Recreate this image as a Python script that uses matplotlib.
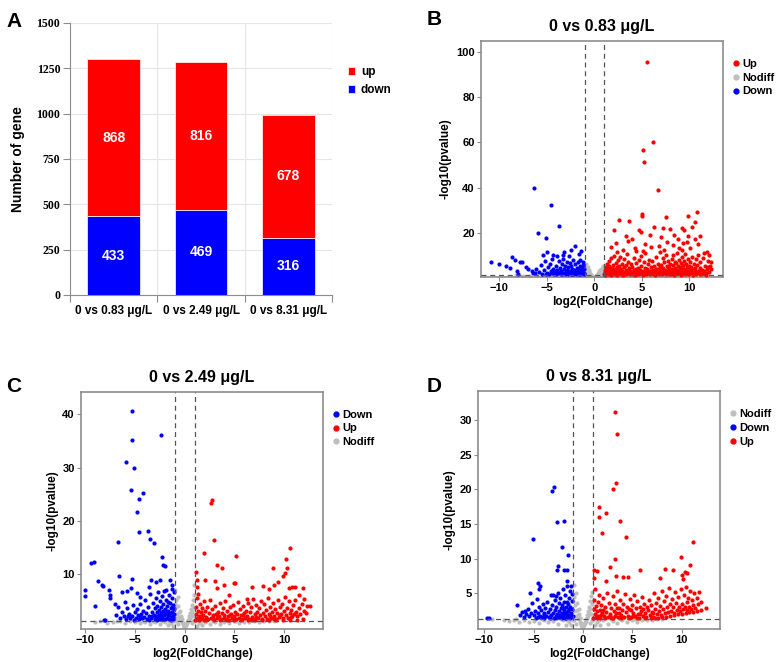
import matplotlib
matplotlib.use("Agg")
import matplotlib.pyplot as plt
from matplotlib.lines import Line2D

plt.rcParams['font.family'] = ['Liberation Sans', 'DejaVu Sans']
plt.rcParams['font.weight'] = 'bold'

# ---------------- Panel A data ----------------
categories = ['0 vs 0.83 μg/L', '0 vs 2.49 μg/L', '0 vs 8.31 μg/L']
down_counts = [433, 469, 316]
up_counts = [868, 816, 678]
a_yticks = [0, 250, 500, 750, 1000, 1250, 1500]

# ---------------- Panel B data (0 vs 0.83) ----------------
b_up = [(5.6,95.5),(6.2,60.0),(5.1,56.5),(5.2,51.5),(6.7,38.8),(10.8,29.2),(5.0,28.2),(5.0,27.4),(9.9,27.3),(7.6,26.8),
        (2.6,25.5),(3.7,25.3),(10.6,24.6),(6.3,22.6),(7.3,22.0),(8.0,21.6),(9.3,22.0),(9.5,21.4),(2.1,21.0),(4.7,21.0),
        (4.9,20.2),(10.3,22.4),(11.2,18.5),(8.4,19.0),(3.3,18.5),(5.9,18.8),(7.0,18.2),(9.9,18.4),(4.0,17.0),(8.8,17.4),
        (10.6,17.2),(3.6,16.2),(7.7,16.0),(9.4,15.5),(9.8,15.7),(2.3,15.2),(5.4,15.0),(6.8,14.2),(8.3,14.6),(10.9,14.8),
        (1.8,13.5),(4.3,13.2),(6.0,13.6),(8.9,13.0),(10.1,13.4),(11.6,11.2),(3.0,12.3),(5.1,12.0),(7.4,12.4),(9.2,12.1),
        (11.9,11.5),(12.1,10.2),(12.3,7.0),(12.2,5.4),(12.0,4.8),
        (1.05,1.6),(1.1,2.4),(1.15,3.5),(1.2,1.9),(1.25,4.6),(1.3,2.8),(1.35,6.1),(1.4,1.5),(1.45,3.1),(1.5,2.2),
        (1.55,5.0),(1.6,7.4),(1.65,1.8),(1.7,3.9),(1.75,2.6),(1.8,8.6),(1.85,4.4),(1.9,1.7),(1.95,3.3),(2.0,5.8),
        (2.05,2.1),(2.1,9.7),(2.15,3.7),(2.2,1.6),(2.25,6.6),(2.3,2.9),(2.35,4.9),(2.4,11.3),(2.45,2.3),(2.5,3.6),
        (2.55,7.7),(2.6,1.9),(2.65,5.3),(2.7,2.7),(2.75,9.1),(2.8,4.1),(2.85,1.5),(2.9,3.2),(2.95,6.2),
        (3.0,2.0),(3.1,4.7),(3.15,8.4),(3.2,2.6),(3.3,1.7),(3.35,5.6),(3.4,3.4),(3.5,10.4),(3.55,2.2),(3.6,7.0),
        (3.7,4.3),(3.75,1.6),(3.8,3.0),(3.9,6.1),(3.95,2.4),
        (4.0,4.9),(4.1,1.8),(4.15,8.9),(4.2,3.3),(4.3,2.1),(4.35,6.5),(4.4,11.9),(4.5,2.9),(4.6,4.4),(4.65,1.5),
        (4.7,7.8),(4.8,3.6),(4.85,2.2),(4.9,5.4),(4.95,9.6),
        (5.0,1.9),(5.1,3.1),(5.2,6.9),(5.25,2.5),(5.3,4.2),(5.4,10.9),(5.5,1.7),(5.6,3.8),(5.65,5.9),(5.7,2.3),
        (5.8,8.1),(5.85,3.0),(5.9,1.6),(6.0,4.6),(6.05,2.0),
        (6.1,7.3),(6.2,3.5),(6.3,1.8),(6.35,5.1),(6.4,2.6),(6.5,9.4),(6.6,4.0),(6.65,2.1),(6.7,6.3),(6.8,1.5),
        (6.85,3.3),(6.9,11.6),(6.95,4.8),
        (7.0,2.4),(7.05,5.7),(7.1,3.0),(7.2,8.7),(7.25,1.9),(7.3,4.3),(7.35,2.7),(7.4,6.8),(7.5,3.6),(7.55,1.6),
        (7.6,10.0),(7.65,5.0),(7.7,2.2),(7.75,3.9),(7.8,7.5),(7.85,1.8),(7.9,4.7),(7.95,2.9),
        (8.0,6.0),(8.05,3.2),(8.1,1.7),(8.15,8.3),(8.2,4.1),(8.25,2.4),(8.3,5.5),(8.35,9.9),(8.4,3.0),(8.45,1.6),
        (8.5,7.1),(8.55,4.5),(8.6,2.1),(8.65,6.4),(8.7,3.5),(8.75,11.0),(8.8,2.7),(8.85,5.2),(8.9,1.9),(8.95,8.0),
        (9.0,3.8),(9.05,2.3),(9.1,6.7),(9.15,4.6),(9.2,1.7),(9.25,9.2),(9.3,3.1),(9.35,5.8),(9.4,2.5),(9.45,7.6),
        (9.5,4.0),(9.55,1.8),(9.6,10.6),(9.65,3.4),(9.7,6.0),(9.75,2.2),(9.8,4.9),(9.85,8.5),(9.9,2.9),(9.95,5.3),
        (10.0,1.6),(10.05,3.7),(10.1,7.2),(10.2,2.6),(10.25,4.8),(10.3,9.0),(10.35,1.9),(10.4,3.3),(10.5,6.1),(10.55,2.3),
        (10.6,4.2),(10.7,8.2),(10.75,1.7),(10.8,5.6),(10.9,3.0),(10.95,10.0),
        (11.0,2.4),(11.1,4.5),(11.2,6.9),(11.3,1.8),(11.4,3.6),(11.5,8.8),(11.6,2.8),(11.7,5.0),(11.8,2.0),(11.9,3.9),
        (12.0,7.6),(12.1,2.6),(12.3,4.1),
        (1.12,1.4),(1.38,2.0),(1.72,1.45),(2.18,2.6),(2.62,3.0),(3.05,1.45),(3.45,2.5),(3.85,1.9),(4.25,1.4),(4.75,2.7),
        (5.15,1.45),(5.55,2.6),(5.95,2.9),(6.45,1.45),(6.75,2.5),(7.15,1.5),(7.45,2.0),(7.85,2.6),(8.12,2.9),(8.38,1.45),
        (8.62,3.3),(8.88,2.4),(9.12,1.45),(9.38,3.7),(9.62,2.0),(9.88,1.5),(10.12,2.8),(10.38,1.45),(10.62,3.1),(10.88,2.1),
        (11.15,1.5),(11.45,2.3),(11.75,1.45),(1.58,3.8),(2.38,1.45),(2.82,2.2),(3.62,3.2),(4.45,3.7),(5.35,1.9),(6.15,2.2),
        (6.55,3.9),(7.25,3.4),(7.65,2.9),(8.48,2.8),(9.22,2.7),(9.72,3.1),(10.45,2.5),(10.15,4.4),(11.05,3.2)]
b_down = [(-6.3,40.0),(-4.6,32.2),(-3.7,23.0),(-5.9,19.7),(-5.1,17.5),(-2.0,14.3),(-1.4,12.0),(-5.0,11.5),(-3.2,11.3),(-2.4,12.2),
          (-1.6,10.5),(-3.9,9.8),(-4.3,10.0),(-5.4,10.2),(-3.3,10.3),(-2.7,9.5),(-10.9,6.8),(-10.0,6.0),(-9.3,5.0),(-8.7,9.0),
          (-8.4,8.0),(-7.8,7.0),(-7.6,7.2),(-8.9,4.5),(-8.0,1.6),(-7.2,4.6),(-6.6,3.2),(-6.2,1.9),(-7.0,3.8),(-8.1,3.1),
          (-6.5,2.2),(-6.1,4.0),(-5.8,2.7),(-5.6,5.5),(-5.5,1.7),(-5.3,3.4),(-5.2,7.3),(-5.0,2.3),(-4.9,4.6),(-4.8,1.5),
          (-4.7,6.2),(-4.6,3.0),(-4.5,2.0),(-4.4,8.3),(-4.3,4.0),(-4.2,1.7),(-4.1,2.8),(-4.0,5.2),(-3.9,3.6),(-3.8,1.9),
          (-3.7,7.5),(-3.65,2.5),(-3.6,4.4),(-3.5,1.6),(-3.45,3.2),(-3.4,6.0),(-3.3,2.1),(-3.25,8.2),(-3.2,3.9),(-3.1,1.7),
          (-3.05,5.0),(-3.0,2.7),(-2.9,7.0),(-2.85,3.4),(-2.8,1.5),(-2.75,4.6),(-2.7,2.3),(-2.6,6.5),(-2.55,3.0),(-2.5,1.8),
          (-2.45,5.4),(-2.4,2.6),(-2.3,4.1),(-2.25,7.8),(-2.2,1.6),(-2.15,3.5),(-2.1,2.2),(-2.0,5.9),(-1.95,3.0),(-1.9,1.5),
          (-1.85,4.4),(-1.8,2.5),(-1.75,6.8),(-1.7,3.6),(-1.65,1.8),(-1.6,2.9),(-1.55,5.1),(-1.5,2.1),(-1.45,3.9),(-1.4,1.5),
          (-1.35,4.8),(-1.3,2.6),(-1.25,3.3),(-1.2,1.9),(-1.15,5.6),(-1.1,2.3),(-1.05,3.7),(-1.1,1.6),(-1.3,4.2),(-1.6,1.6),
          (-2.0,2.0),(-2.35,1.6),(-2.9,2.2),(-3.4,1.5),(-4.05,1.5),(-5.1,1.6),(-1.2,7.2),(-1.5,8.0)]
b_nodiff = [(-0.95,5.5),(-0.9,4.2),(-0.85,3.0),(-0.8,2.2),(-0.75,1.5),(-0.7,4.8),(-0.6,3.5),(-0.55,2.6),(-0.5,1.8),(-0.45,1.2),
            (-0.4,2.0),(-0.35,1.0),(-0.3,1.4),(-0.25,0.7),(-0.2,0.9),(-0.15,0.5),(-0.1,0.4),(-0.05,0.3),(0.0,0.2),(0.05,0.3),
            (0.1,0.5),(0.15,0.6),(0.2,0.9),(0.25,1.2),(0.3,0.8),(0.35,1.6),(0.4,1.1),(0.45,2.3),(0.5,1.5),(0.55,2.9),
            (0.6,2.0),(0.65,3.6),(0.7,2.6),(0.75,4.1),(0.8,1.8),(0.85,3.2),(0.9,5.0),(0.95,2.4),(-0.98,3.8),(-0.92,1.9),
            (-0.65,1.0),(0.7,1.1),(0.92,1.2),(-0.88,6.0),(0.97,4.4),
            (-7.5,0.8),(-6.8,1.0),(-6.0,0.7),(-5.4,1.1),(-4.9,0.9),(-4.2,1.2),(-3.8,0.6),(-3.3,1.0),(-2.8,0.8),(-2.4,1.2),
            (-2.0,0.6),(-1.7,1.0),(-1.4,0.7),(-1.2,1.1),(-1.05,0.5),(1.05,0.5),(1.2,1.0),(1.4,0.7),(1.7,1.2),(2.0,0.8),
            (2.4,1.1),(2.8,0.6),(3.2,1.0),(3.6,0.8),(4.0,1.2),(4.5,0.7),(5.0,1.0),(5.5,0.8),(6.0,1.1),(6.5,0.9),
            (7.0,1.2),(7.5,1.0),(8.0,1.2),(8.6,1.1),(-8.2,1.1),(-5.0,0.5),(-3.0,0.5),(1.6,0.4),(2.6,0.5),(3.9,0.6),
            (5.3,0.6),(0.6,0.4),(-0.6,0.5)]

# ---------------- Panel C data (0 vs 2.49) ----------------
c_down = [(-5.3,40.5),(-5.3,35.2),(-2.4,36.0),(-5.9,31.0),(-5.1,30.0),(-5.4,25.8),(-4.2,25.3),(-4.6,24.1),(-4.8,21.7),(-6.7,16.1),
          (-3.7,18.1),(-4.6,17.9),(-3.5,16.7),(-3.1,15.8),(-2.3,13.2),(-2.2,11.8),(-2.0,11.6),(-9.4,12.2),(-9.1,12.3),(-10.0,7.1),
          (-10.0,6.0),(-9.0,4.0),(-8.7,8.8),(-8.2,7.8),(-8.3,7.9),(-7.6,7.0),(-7.5,5.5),(-7.5,6.2),(-6.6,9.7),(-5.3,9.1),
          (-8.1,1.5),(-8.0,1.5),(-7.0,4.5),(-6.7,3.8),(-6.3,6.7),(-6.0,4.8),(-5.8,6.8),(-5.4,7.5),(-3.4,8.9),(-2.5,8.9),
          (-1.5,8.9),(-1.3,8.0),(-1.3,7.3),(-2.9,8.6),(-3.6,7.6),(-4.8,6.4),(-4.5,5.7),
          (-6.9,2.4),(-6.5,1.9),(-6.3,3.0),(-6.1,2.2),(-5.9,1.6),(-5.8,3.6),(-5.6,2.6),(-5.5,1.8),(-5.3,2.2),(-5.2,4.2),
          (-5.1,1.5),(-5.0,2.9),(-4.9,1.9),(-4.8,3.4),(-4.7,2.3),(-4.6,1.6),(-4.5,4.4),(-4.4,2.6),(-4.3,1.8),(-4.2,3.1),
          (-4.1,2.0),(-4.0,5.1),(-3.9,2.7),(-3.8,1.6),(-3.7,3.8),(-3.6,2.2),(-3.5,6.3),(-3.4,1.8),(-3.3,3.0),(-3.2,4.6),
          (-3.1,2.4),(-3.0,1.6),(-2.95,3.6),(-2.9,5.6),(-2.85,2.1),(-2.8,2.9),(-2.75,4.1),(-2.7,1.7),(-2.65,6.6),(-2.6,3.3),
          (-2.55,2.3),(-2.5,4.9),(-2.45,1.6),(-2.4,3.8),(-2.35,2.7),(-2.3,5.9),(-2.25,1.9),(-2.2,3.1),(-2.15,4.4),(-2.1,2.4),
          (-2.05,6.9),(-2.0,1.7),(-1.95,3.5),(-1.9,2.7),(-1.85,5.2),(-1.8,1.9),(-1.75,4.0),(-1.7,2.3),(-1.65,3.2),(-1.6,6.2),
          (-1.55,1.6),(-1.5,4.6),(-1.45,2.8),(-1.4,3.7),(-1.35,2.0),(-1.3,5.5),(-1.25,3.0),(-1.2,1.7),(-1.15,4.2),(-1.1,2.5),
          (-1.05,3.4),(-1.1,6.6),(-1.2,2.1),(-1.4,1.5),(-1.6,2.6),(-1.8,3.0),(-2.0,2.5),(-2.2,1.6),(-2.4,2.1),(-2.6,1.8),
          (-2.8,1.5),(-3.3,2.1),(-3.6,1.5),(-4.5,2.2),(-5.7,2.1),(-1.3,3.9),(-1.7,4.8),(-1.9,7.0)]
c_up = [(2.7,24.0),(2.6,23.3),(2.9,16.5),(1.9,14.0),(5.2,13.5),(3.2,11.7),(3.7,11.1),(1.1,10.5),(10.6,15.0),(10.2,12.9),
        (10.3,11.2),(8.9,11.2),(10.1,10.2),(9.9,9.6),(9.4,8.5),(9.0,7.9),(10.8,7.6),(10.5,7.4),(11.1,7.6),(11.9,7.4),
        (7.9,7.8),(6.8,7.7),(5.0,8.4),(5.1,8.3),(3.0,8.8),(3.2,7.4),(2.0,8.9),(1.2,8.9),(1.2,7.7),(3.9,7.9),
        (4.5,6.2),(6.3,5.3),(8.5,7.3),(12.3,4.1),(12.6,4.0),(12.0,5.3),(11.5,6.2),
        (1.05,1.5),(1.1,2.6),(1.15,3.8),(1.2,5.6),(1.25,1.9),(1.3,3.1),(1.35,6.3),(1.4,2.2),(1.5,4.4),(1.55,1.6),
        (1.6,2.9),(1.7,3.6),(1.75,1.8),(1.8,2.4),(1.9,4.9),(1.95,1.5),(2.0,3.2),(2.1,2.0),(2.2,3.9),(2.3,1.7),
        (2.4,2.7),(2.5,5.2),(2.6,1.9),(2.7,3.4),(2.8,2.3),(2.9,1.5),(3.0,4.1),(3.1,2.6),(3.2,1.8),(3.3,3.0),
        (3.4,2.1),(3.5,4.6),(3.6,1.6),(3.7,2.8),(3.8,3.6),(3.9,1.9),(4.0,2.4),(4.1,5.0),(4.2,1.7),(4.3,3.2),
        (4.4,2.2),(4.5,1.5),(4.6,3.8),(4.7,2.6),(4.8,1.8),(4.9,4.3),(5.0,2.1),(5.1,3.0),(5.2,1.6),(5.3,2.5),
        (5.4,4.8),(5.5,1.9),(5.6,3.4),(5.7,2.3),(5.8,1.6),(5.9,4.0),(6.0,2.7),(6.1,1.8),(6.2,3.2),(6.3,2.2),
        (6.4,4.6),(6.5,1.7),(6.6,2.9),(6.7,3.8),(6.8,2.0),(6.9,5.4),(7.0,1.6),(7.1,2.6),(7.2,4.2),(7.3,3.0),
        (7.4,1.9),(7.5,3.7),(7.6,2.3),(7.7,5.0),(7.8,1.7),(7.9,2.8),(8.0,4.4),(8.1,2.1),(8.2,3.3),(8.3,1.6),
        (8.4,5.6),(8.5,2.6),(8.6,3.9),(8.7,1.9),(8.8,3.0),(8.9,4.7),(9.0,2.2),(9.1,3.5),(9.2,1.7),(9.3,2.7),
        (9.4,5.2),(9.5,2.0),(9.6,3.8),(9.7,2.5),(9.8,4.4),(9.9,1.8),(10.0,3.1),(10.1,5.8),(10.2,2.3),(10.3,3.6),
        (10.4,1.9),(10.5,4.9),(10.6,2.8),(10.7,3.3),(10.8,2.1),(10.9,4.2),(11.0,2.6),(11.1,5.1),(11.2,3.0),(11.3,2.2),
        (11.5,3.7),(11.6,2.5),(11.8,4.4),(12.0,3.2),(12.2,2.7),(1.45,1.45),(2.15,1.45),(2.85,1.8),(3.55,1.45),(4.25,1.45),
        (4.95,1.45),(5.65,1.5),(6.35,1.45),(7.05,1.45),(7.75,1.45),(8.45,1.45),(9.15,1.5),(9.85,1.45),(10.55,1.5),(11.25,1.5),
        (11.85,1.6),(3.25,2.4),(4.55,2.3),(5.85,2.3),(7.15,2.0),(8.55,2.2),(9.55,2.4),(10.65,2.0),(6.75,1.5),(8.95,1.6),
        (1.65,2.1)]
c_nodiff = [(-0.95,7.0),(-0.9,5.2),(-0.85,3.8),(-0.8,2.6),(-0.75,1.8),(-0.7,5.8),(-0.65,4.1),(-0.6,2.9),(-0.55,2.0),(-0.5,1.4),
            (-0.45,3.2),(-0.4,2.2),(-0.35,1.5),(-0.3,1.0),(-0.25,1.7),(-0.2,0.8),(-0.15,0.6),(-0.1,0.4),(-0.05,0.2),(0.0,0.1),
            (0.05,0.3),(0.1,0.5),(0.15,0.7),(0.2,1.0),(0.25,0.8),(0.3,1.5),(0.35,1.2),(0.4,2.1),(0.45,1.6),(0.5,2.7),
            (0.55,1.9),(0.6,3.4),(0.65,2.4),(0.7,4.3),(0.75,3.0),(0.8,5.2),(0.85,2.2),(0.9,6.1),(0.95,3.7),(0.98,8.0),
            (-0.98,4.5),(0.88,1.3),(-0.88,1.2),
            (-9.0,1.0),(-8.5,1.2),(-7.8,0.9),(-7.2,1.1),(-6.5,1.2),(-6.0,0.9),(-5.5,1.2),(-5.0,1.0),(-4.5,0.8),(-4.0,1.1),
            (-3.5,0.7),(-3.0,1.0),(-2.5,0.6),(-2.0,1.1),(-1.7,0.5),(-1.4,0.9),(-1.2,0.4),(-1.05,1.2),(1.05,1.2),(1.2,0.4),
            (1.4,0.9),(1.7,0.5),(2.0,1.1),(2.5,0.6),(3.0,1.0),(3.5,0.7),(4.0,1.1),(4.5,0.8),(5.0,1.2),(5.5,0.9),
            (6.0,1.1),(6.5,1.0),(7.0,1.2),(7.5,1.1),(8.0,1.2),(8.5,1.2),(9.0,1.25),(-2.2,1.25),(-3.2,1.25),(2.8,1.25),
            (3.8,1.25),(-1.6,1.2),(1.6,1.2),(-6.8,1.25),(-4.2,1.25),(5.2,1.25),(-0.7,0.7),(0.7,0.8)]

# ---------------- Panel D data (0 vs 8.31) ----------------
d_up = [(3.3,31.2),(3.5,28.0),(3.4,20.9),(3.0,20.0),(1.6,17.4),(2.3,16.6),(1.6,16.0),(3.8,15.5),(1.9,13.7),(4.4,13.1),
        (11.2,12.4),(3.3,10.0),(9.9,10.3),(10.9,9.1),(1.1,8.3),(1.4,8.2),(2.7,8.8),(5.8,8.4),(8.3,8.5),(9.1,8.3),
        (10.3,8.1),(10.5,8.0),(3.4,7.5),(4.1,7.4),(7.8,7.2),(10.0,7.7),(10.1,7.1),(4.6,7.3),(2.3,6.8),(1.1,7.2),
        (7.6,1.45),(8.0,1.55),(8.4,1.65),(8.8,1.75),(9.2,1.85),(9.6,1.95),(10.0,2.05),(10.4,2.15),(10.8,2.25),(11.2,2.35),
        (11.6,2.45),(12.0,2.55),
        (1.05,1.5),(1.1,2.8),(1.15,4.1),(1.2,2.0),(1.25,5.6),(1.3,3.2),(1.35,1.6),(1.4,2.4),(1.5,3.7),(1.55,1.8),
        (1.6,4.8),(1.7,2.6),(1.75,1.5),(1.8,3.3),(1.9,2.1),(2.0,4.3),(2.1,1.7),(2.2,3.0),(2.3,2.3),(2.4,5.1),
        (2.5,1.6),(2.6,3.6),(2.7,2.0),(2.8,2.9),(2.9,1.5),(3.0,4.6),(3.1,2.5),(3.2,1.8),(3.3,3.4),(3.4,2.2),
        (3.5,5.4),(3.6,1.6),(3.7,2.9),(3.8,4.0),(3.9,1.9),(4.0,2.6),(4.1,3.5),(4.2,1.6),(4.3,4.9),(4.4,2.3),
        (4.5,3.1),(4.6,1.8),(4.7,2.7),(4.8,4.2),(4.9,1.6),(5.0,3.3),(5.1,2.1),(5.2,4.8),(5.3,1.7),(5.4,2.9),
        (5.5,3.9),(5.6,2.0),(5.7,1.5),(5.8,3.0),(5.9,2.4),(6.0,4.5),(6.1,1.8),(6.2,3.4),(6.3,2.2),(6.4,1.6),
        (6.5,3.0),(6.6,2.6),(6.7,4.1),(6.8,1.9),(6.9,3.3),(7.0,2.3),(7.1,1.6),(7.2,5.0),(7.3,2.8),(7.4,3.6),
        (7.5,2.0),(7.6,4.3),(7.7,2.5),(7.8,3.2),(7.9,1.9),(8.0,5.3),(8.1,2.7),(8.2,3.9),(8.3,2.1),(8.4,4.6),
        (8.5,3.0),(8.6,2.3),(8.7,5.8),(8.8,3.5),(8.9,2.5),(9.0,4.2),(9.1,3.0),(9.2,2.2),(9.3,5.2),(9.4,3.6),
        (9.5,2.6),(9.6,4.5),(9.7,3.1),(9.8,2.4),(9.9,5.6),(10.0,3.4),(10.1,2.7),(10.2,4.8),(10.3,3.0),(10.4,5.9),
        (10.5,2.6),(10.6,3.8),(10.7,4.4),(10.8,3.1),(10.9,5.4),(11.0,2.8),(11.1,4.0),(11.2,3.3),(11.3,5.0),(11.4,2.9),
        (11.6,4.3),(11.7,3.5),(11.8,5.2),(12.0,3.8),(12.5,2.9),(1.45,1.45),(2.25,1.45),(3.05,1.45),(3.85,1.45),(4.65,1.45),
        (5.45,1.45),(6.25,1.45),(6.95,1.5),(7.35,1.5),(2.05,2.6),(3.45,2.9),(4.85,2.6),(6.05,2.8),(7.15,2.2),(1.85,1.9),
        (2.75,1.7),(3.65,2.2),(5.05,1.8),(5.75,2.0)]
d_down = [(-2.9,20.3),(-3.1,19.8),(-1.9,15.5),(-2.6,15.3),(-5.1,12.8),(-2.1,11.7),(-1.5,10.5),(-2.5,8.9),(-1.6,8.4),(-1.9,8.3),
          (-2.6,8.4),(-1.6,6.8),(-4.6,6.5),(-4.4,6.1),(-4.5,5.6),(-5.4,5.0),(-3.2,4.7),(-3.0,4.8),(-2.7,4.6),(-6.7,3.3),
          (-9.7,1.4),(-9.5,1.4),(-6.4,1.9),(-5.9,2.5),
          (-6.2,2.3),(-6.0,1.6),(-5.8,2.0),(-5.6,2.8),(-5.5,1.7),(-5.3,2.2),(-5.2,3.6),(-5.0,1.9),(-4.9,2.5),(-4.8,1.5),
          (-4.7,4.2),(-4.6,2.1),(-4.5,3.0),(-4.4,1.7),(-4.3,2.6),(-4.2,1.6),(-4.1,3.4),(-4.0,2.0),(-3.9,1.5),(-3.8,2.9),
          (-3.7,1.8),(-3.6,3.8),(-3.5,2.3),(-3.4,1.6),(-3.3,2.7),(-3.2,1.9),(-3.1,3.3),(-3.0,2.2),(-2.9,1.5),(-2.85,4.0),
          (-2.8,2.6),(-2.75,1.8),(-2.7,3.1),(-2.6,2.0),(-2.55,5.0),(-2.5,1.6),(-2.45,3.6),(-2.4,2.4),(-2.35,1.9),(-2.3,4.4),
          (-2.25,2.9),(-2.2,1.6),(-2.15,3.3),(-2.1,2.2),(-2.05,5.6),(-2.0,1.8),(-1.95,3.8),(-1.9,2.6),(-1.85,1.5),(-1.8,4.7),
          (-1.75,3.0),(-1.7,2.1),(-1.65,6.0),(-1.6,1.7),(-1.55,3.5),(-1.5,2.5),(-1.45,4.3),(-1.4,1.9),(-1.35,3.0),(-1.3,5.4),
          (-1.25,2.2),(-1.2,1.6),(-1.15,3.9),(-1.1,2.8),(-1.05,1.8),(-1.1,4.9),(-1.2,6.1),(-1.3,1.5),(-1.5,1.6),(-1.7,1.5),
          (-1.9,2.0),(-2.1,1.5),(-2.4,1.6),(-2.7,1.5),(-3.3,1.5),(-3.9,2.2),(-4.6,1.6),(-1.4,2.7),(-1.6,3.8),(-1.8,2.3),
          (-2.0,2.9)]
d_nodiff = [(-0.95,6.2),(-0.9,4.5),(-0.85,3.3),(-0.8,2.4),(-0.75,1.7),(-0.7,5.0),(-0.65,3.6),(-0.6,2.6),(-0.55,1.9),(-0.5,1.3),
            (-0.45,2.8),(-0.4,2.0),(-0.35,1.4),(-0.3,0.9),(-0.25,1.5),(-0.2,0.7),(-0.15,0.5),(-0.1,0.35),(-0.05,0.2),(0.0,0.1),
            (0.05,0.25),(0.1,0.4),(0.15,0.6),(0.2,0.9),(0.25,0.7),(0.3,1.3),(0.35,1.0),(0.4,1.9),(0.45,1.4),(0.5,2.5),
            (0.55,1.7),(0.6,3.1),(0.65,2.2),(0.7,3.9),(0.75,2.8),(0.8,4.6),(0.85,2.0),(0.9,5.2),(0.95,3.4),(-0.98,3.9),
            (0.92,1.2),(-0.9,1.2),
            (-8.0,1.2),(-7.5,1.0),(-7.0,1.2),(-6.5,0.9),(-6.0,1.1),(-5.5,0.8),(-5.0,1.0),(-4.5,0.7),(-4.0,1.1),(-3.5,0.8),
            (-3.0,1.0),(-2.5,0.6),(-2.0,1.1),(-1.7,0.5),(-1.4,0.9),(-1.2,0.4),(-1.05,1.2),(1.05,1.2),(1.2,0.4),(1.4,0.9),
            (1.7,0.5),(2.0,1.1),(2.5,0.6),(3.0,1.0),(3.5,0.7),(4.0,1.1),(4.5,0.8),(5.0,1.2),(5.5,0.9),(6.0,1.1),
            (6.5,1.2),(7.0,1.2),(7.5,1.25),(-9.2,1.25),(-2.2,1.25),(-3.2,1.25),(2.8,1.25),(3.8,1.25),(-1.6,1.2),(1.6,1.2),
            (-4.2,1.25),(5.2,1.25),(-0.7,0.6),(0.7,0.7),(8.0,1.3),(-6.8,1.25)]

RED = '#ff0000'
BLUE = '#0000ff'
GREY = '#bebebe'
SPINE = '#8c8c8c'

fig = plt.figure(figsize=(7.78, 6.62), dpi=100)

# ---------------- Panel A ----------------
axA = fig.add_axes([0.0900, 0.5544, 0.3368, 0.4109])
xs = list(range(len(categories)))
axA.bar(xs, down_counts, width=0.6, color=BLUE, edgecolor='#e8e8ff', linewidth=0.6, label='down', zorder=3)
axA.bar(xs, up_counts, width=0.6, bottom=down_counts, color=RED, edgecolor='#ffe8e8', linewidth=0.6, label='up', zorder=3)
for x, d, u in zip(xs, down_counts, up_counts):
    axA.text(x, d / 2, str(d), ha='center', va='center', color='white', fontsize=10, fontweight='bold', zorder=4)
    axA.text(x, d + u / 2, str(u), ha='center', va='center', color='white', fontsize=10, fontweight='bold', zorder=4)
axA.set_xlim(-0.5, 2.5)
axA.set_ylim(0, 1500)
axA.set_yticks(a_yticks)
axA.set_yticklabels([str(v) for v in a_yticks], family='Liberation Serif', fontweight='bold', fontsize=8.5)
axA.set_xticks([-0.5, 0.5, 1.5, 2.5])
axA.set_xticklabels([])
axA.set_xticks(xs, minor=True)
axA.set_xticklabels(categories, minor=True, fontsize=8.5, fontweight='bold')
axA.tick_params(axis='x', which='minor', length=0, pad=7)
axA.tick_params(axis='x', which='major', length=5, color=SPINE, direction='out')
axA.tick_params(axis='y', length=5, color=SPINE, pad=2)
for y in a_yticks[1:]:
    axA.axhline(y, color='#e6e6e6', lw=0.8, zorder=0)
for x in [0.5, 1.5, 2.5]:
    axA.axvline(x, color='#e6e6e6', lw=0.8, zorder=0)
for s in ['top', 'right']:
    axA.spines[s].set_visible(False)
axA.spines['left'].set_color(SPINE)
axA.spines['bottom'].set_color(SPINE)
axA.set_ylabel('Number of gene', fontsize=10, fontweight='bold', labelpad=8)
hA, lA = axA.get_legend_handles_labels()
axA.legend(hA[::-1], lA[::-1], loc='upper left', bbox_to_anchor=(1.02, 0.88), frameon=False,
           handlelength=0.6, handleheight=0.6, handletextpad=0.5, labelspacing=0.5,
           prop={'weight': 'bold', 'size': 8.5})


def volcano(ax, title, up, down, nodiff, xlim, ylim, yticks, order, legend_anchor):
    ax.scatter([p[0] for p in nodiff], [p[1] for p in nodiff], s=9, color=GREY, linewidths=0, zorder=2)
    ax.scatter([p[0] for p in up], [p[1] for p in up], s=9, color=RED, linewidths=0, zorder=3)
    ax.scatter([p[0] for p in down], [p[1] for p in down], s=9, color=BLUE, linewidths=0, zorder=3)
    ax.axvline(-1, color='#555555', lw=0.9, ls=(0, (4, 3)), zorder=4)
    ax.axvline(1, color='#555555', lw=0.9, ls=(0, (4, 3)), zorder=4)
    ax.axhline(1.3, color='#555555', lw=0.9, ls=(0, (4, 3)), zorder=4)
    ax.set_xlim(*xlim)
    ax.set_ylim(*ylim)
    ax.set_xticks([-10, -5, 0, 5, 10])
    ax.set_yticks(yticks)
    ax.tick_params(labelsize=8, length=3, color=SPINE, pad=1.5)
    for lab in ax.get_xticklabels() + ax.get_yticklabels():
        lab.set_fontweight('bold')
    for s in ax.spines.values():
        s.set_color(SPINE)
        s.set_linewidth(1.2)
    ax.set_title(title, fontsize=11.5, fontweight='bold', pad=7)
    ax.set_xlabel('log2(FoldChange)', fontsize=8.5, fontweight='bold', labelpad=2)
    ax.set_ylabel('-log10(pvalue)', fontsize=8.5, fontweight='bold', labelpad=3)
    colors = {'Up': RED, 'Down': BLUE, 'Nodiff': GREY}
    handles = [Line2D([], [], marker='o', ls='', color=colors[k], markersize=3.5) for k in order]
    ax.legend(handles, order, loc='upper left', bbox_to_anchor=legend_anchor, frameon=False,
              handletextpad=0.2, labelspacing=0.35, borderaxespad=0, handlelength=0.8,
              borderpad=0, prop={'weight': 'bold', 'size': 8})


axB = fig.add_axes([0.6183, 0.5816, 0.3111, 0.3565])
volcano(axB, '0 vs 0.83 μg/L', b_up, b_down, b_nodiff, (-11.93, 13.58), (0.35, 105),
        [20, 40, 60, 80, 100], ['Up', 'Nodiff', 'Down'], (1.035, 0.925))

axC = fig.add_axes([0.1041, 0.0498, 0.3111, 0.3585])
volcano(axC, '0 vs 2.49 μg/L', c_up, c_down, c_nodiff, (-10.42, 13.9), (-0.26, 44.2),
        [10, 20, 30, 40], ['Down', 'Up', 'Nodiff'], (1.035, 0.925))

axD = fig.add_axes([0.6148, 0.0498, 0.3107, 0.3595])
volcano(axD, '0 vs 8.31 μg/L', d_up, d_down, d_nodiff, (-10.61, 13.9), (-0.15, 34.2),
        [5, 10, 15, 20, 25, 30], ['Nodiff', 'Down', 'Up'], (1.035, 0.925))

for lab, x, y in [('A', 0.008, 0.982), ('B', 0.548, 0.985), ('C', 0.008, 0.43), ('D', 0.548, 0.43)]:
    fig.text(x, y, lab, fontsize=15, fontweight='bold', ha='left', va='top')

fig.savefig('out.png', dpi=100)
